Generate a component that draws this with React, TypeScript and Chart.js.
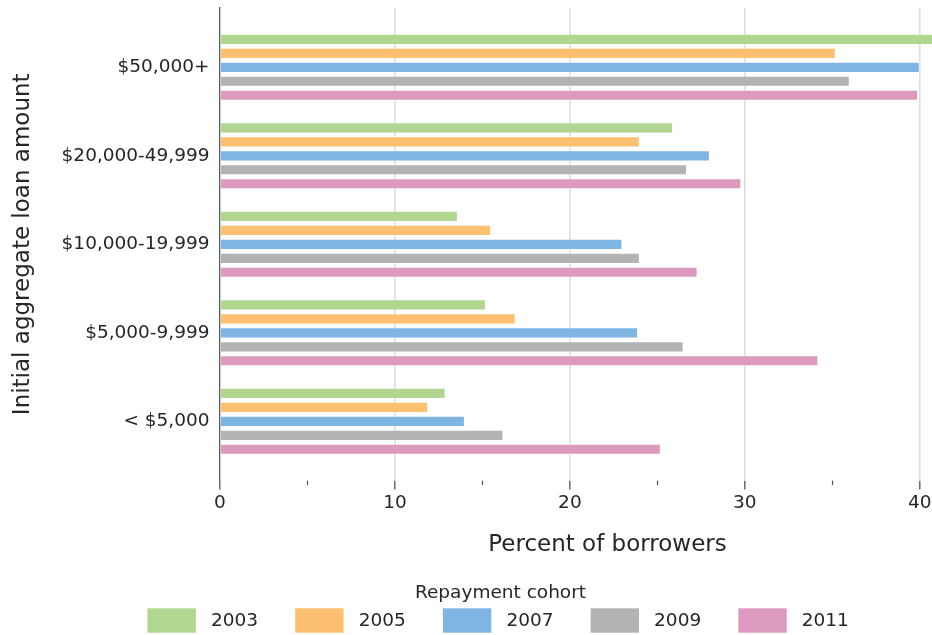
import React, { useEffect, useRef } from "react";
import { Chart, registerables } from "chart.js";

Chart.register(...registerables);

// ---- data ----
const CATEGORIES = ["$50,000+", "$20,000-49,999", "$10,000-19,999", "$5,000-9,999", "< $5,000"];
const COHORTS = ["2003", "2005", "2007", "2009", "2011"];
const V2003 = [41.8, 25.9, 13.6, 15.2, 12.9];
const V2005 = [35.2, 24.0, 15.5, 16.9, 11.9];
const V2007 = [40.0, 28.0, 23.0, 23.9, 14.0];
const V2009 = [36.0, 26.7, 24.0, 26.5, 16.2];
const V2011 = [39.9, 29.8, 27.3, 34.2, 25.2];
const SERIES = [V2003, V2005, V2007, V2009, V2011];
const COLORS = ["#b0d690", "#fdc070", "#7fb5e2", "#b3b3b4", "#dc9abf"];
const X_TICKS = [0, 10, 20, 30, 40];
const X_MINOR_TICKS = [5, 15, 25, 35];
const X_MAX = 44.3;

const TEXT = "#262626";
const FONT = '"DejaVu Sans", "Liberation Sans", sans-serif';

const minorTickPlugin = {
  id: "minorTicks",
  afterDraw(chart: any) {
    const { ctx, chartArea } = chart;
    const xs = chart.scales.x;
    ctx.save();
    ctx.strokeStyle = "#555555";
    ctx.lineWidth = 1.2;
    X_MINOR_TICKS.forEach((v) => {
      const px = Math.round(xs.getPixelForValue(v)) + 0.5;
      ctx.beginPath();
      ctx.moveTo(px, chartArea.bottom);
      ctx.lineTo(px, chartArea.bottom + 4.5);
      ctx.stroke();
    });
    ctx.restore();
  },
};

const legendPlugin = {
  id: "cohortLegend",
  afterDraw(chart: any) {
    const { ctx } = chart;
    ctx.save();
    ctx.fillStyle = TEXT;
    ctx.font = `18.5px ${FONT}`;
    ctx.textAlign = "center";
    ctx.textBaseline = "middle";
    ctx.fillText("Repayment cohort", 500.5, 593);
    chart.data.datasets.forEach((ds: any, i: number) => {
      const x = 147.5 + i * 147.7;
      ctx.fillStyle = ds.backgroundColor;
      ctx.fillRect(x, 608.3, 48.4, 24.4);
      ctx.fillStyle = TEXT;
      ctx.textAlign = "left";
      ctx.font = `18.5px ${FONT}`;
      ctx.fillText(ds.label, x + 63.5, 621);
    });
    ctx.restore();
  },
};

export default function App() {
  const ref = useRef<HTMLCanvasElement | null>(null);

  useEffect(() => {
    document.body.style.margin = "0";
    if (!ref.current) return;
    Chart.defaults.font.family = FONT;
    Chart.defaults.color = TEXT;

    const chart = new Chart(ref.current, {
      type: "bar",
      data: {
        datasets: COHORTS.map((label, i) => ({
          label,
          data: SERIES[i].map((v, j) => ({ x: v, y: j })),
          backgroundColor: COLORS[i],
          borderColor: "rgba(255,255,255,0.4)",
          borderWidth: 1,
          categoryPercentage: 0.79,
          barPercentage: 0.8,
        })),
      },
      options: {
        indexAxis: "y",
        animation: false,
        responsive: false,
        devicePixelRatio: 1,
        layout: { padding: { top: 8, right: 0, left: 0, bottom: 74.2 } },
        plugins: {
          legend: { display: false },
          tooltip: { enabled: false },
        },
        scales: {
          x: {
            type: "linear",
            min: 0,
            max: X_MAX,
            afterBuildTicks: (s: any) => {
              s.ticks = X_TICKS.map((v) => ({ value: v }));
            },
            afterFit: (s: any) => {
              s.height = 80.2;
              s.paddingLeft = 0;
              s.paddingRight = 0;
            },
            ticks: {
              font: { size: 18.5 },
              color: TEXT,
              padding: 2,
              includeBounds: false,
            },
            grid: {
              color: (c: any) => (c.tick && c.tick.value === 0 ? "rgba(0,0,0,0)" : "#dedede"),
              lineWidth: 1.6,
              drawTicks: true,
              tickLength: 9,
              tickColor: "#555555",
              tickWidth: 1.3,
            },
            border: { display: false },
            title: {
              display: true,
              text: "Percent of borrowers",
              font: { size: 23 },
              color: TEXT,
              padding: { top: 0, bottom: 2 },
            },
          },
          y: {
            type: "linear",
            reverse: true,
            offset: false,
            min: -0.67,
            max: CATEGORIES.length - 1 + 0.67,
            afterBuildTicks: (s: any) => {
              s.ticks = CATEGORIES.map((_, i) => ({ value: i }));
            },
            afterFit: (s: any) => {
              s.width = 220;
              s.paddingTop = 0;
              s.paddingBottom = 0;
            },
            ticks: {
              autoSkip: false,
              font: { size: 18.5 },
              color: TEXT,
              padding: 10.5,
              callback: (v: any) => CATEGORIES[v as number] ?? "",
            },
            grid: { display: true, offset: false, color: "rgba(0,0,0,0)", drawTicks: false },
            border: { display: true, color: "#5a5a5a", width: 1.3 },
            title: {
              display: true,
              text: "Initial aggregate loan amount",
              font: { size: 23 },
              color: TEXT,
              padding: { top: 9.2, bottom: 0 },
            },
          },
        },
      },
      plugins: [minorTickPlugin, legendPlugin],
    } as any);

    return () => chart.destroy();
  }, []);

  return (
    <div style={{ width: 932, height: 635, position: "relative", overflow: "hidden" }}>
      <canvas ref={ref} width={995} height={635} style={{ width: 995, height: 635, display: "block" }} />
    </div>
  );
}
